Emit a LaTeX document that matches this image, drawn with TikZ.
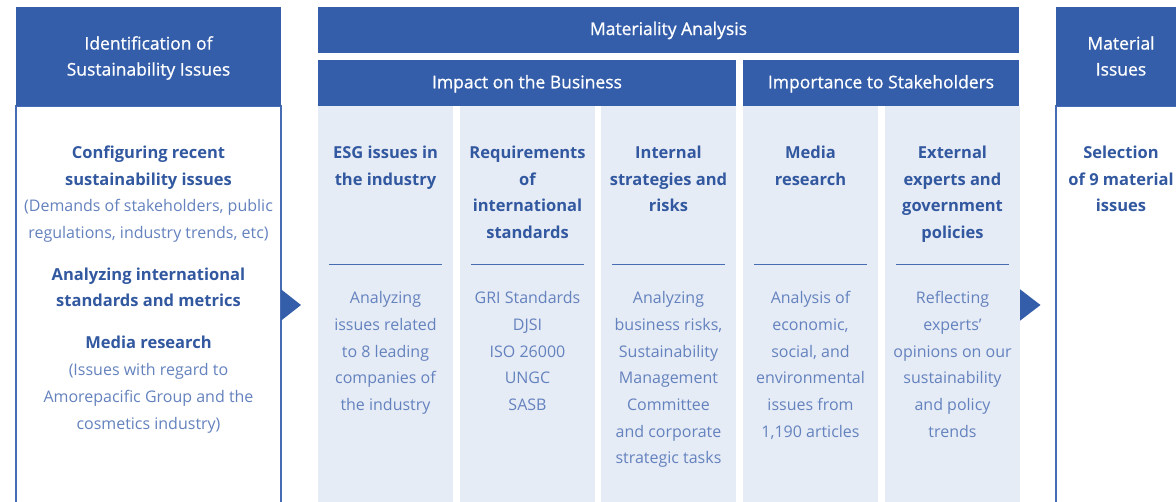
\documentclass[tikz,border=0pt]{standalone}
\usepackage{fontspec}
\setmainfont{Open Sans}
\newfontfamily\titlefont[FakeBold=0.8]{Open Sans}
\definecolor{hblue}{RGB}{52,94,170}
\definecolor{lblue}{RGB}{230,236,246}
\definecolor{dblue}{RGB}{50,88,160}
\definecolor{tblue}{RGB}{100,130,190}
\definecolor{bord}{RGB}{70,108,180}
\begin{document}
\begin{tikzpicture}[x=1pt,y=-1pt,
  box/.style={anchor=north west, inner sep=0, outer sep=0},
  hdr/.style={box, fill=hblue},
  col/.style={box, fill=lblue},
  outl/.style={box, draw=bord, line width=1.5pt},
  ttl/.style={font=\titlefont\fontsize{17.5}{26}\selectfont, text=white, align=center, inner sep=0},
  hd/.style={font=\fontsize{16.5}{26.5}\selectfont\bfseries, text=dblue, align=center, inner sep=0, execute at begin node=\strut},
  bd/.style={font=\fontsize{16}{26.7}\selectfont, text=tblue, align=center, inner sep=0, execute at begin node=\strut},
  sepl/.style={draw=bord, line width=1pt},
  arr/.style={fill=hblue}
]
\useasboundingbox (0,0) rectangle (1176,501);
\clip (0,0) rectangle (1176,501);
\fill[white] (0,0) rectangle (1176,501);

% left column
\node[outl, minimum width=265, minimum height=430] (lb) at (16,106) {};
\node[hdr, minimum width=265, minimum height=99] (lh) at (16,7) {};
\node[ttl, anchor=center] (lht) at (148.5,58) {Identification of\\Sustainability Issues};
\node[hd, anchor=north] (l1) at (148.5,146) {Configuring recent\\sustainability issues};
\node[bd, anchor=north] (l2) at (148.5,199.5) {(Demands of stakeholders, public\\regulations, industry trends, etc)};
\node[hd, anchor=north] (l3) at (148.5,267.5) {Analyzing international\\standards and metrics};
\node[hd, anchor=north] (l4) at (148.5,329.75) {Media research};
\node[bd, anchor=north] (l5) at (148.5,363.3) {(Issues with regard to\\Amorepacific Group and the\\cosmetics industry)};

% materiality analysis
\node[hdr, minimum width=701, minimum height=46] (mh) at (318,7) {};
\node[ttl, anchor=base] (mht) at (668.5,35) {Materiality Analysis};
\node[hdr, minimum width=418, minimum height=45.5] (ih) at (318,60) {};
\node[ttl, anchor=base] (iht) at (527,88.3) {Impact on the Business};
\node[hdr, minimum width=276, minimum height=45.5] (sh) at (743,60) {};
\node[ttl, anchor=base] (sht) at (881,88.3) {Importance to Stakeholders};

\foreach \i/\x in {1/318,2/460,3/601,4/743,5/885}{
  \node[col, minimum width=135, minimum height=420] (c\i) at (\x,105.5) {};
  \draw[sepl] (\x+11,264.3) -- (\x+124,264.3);
}
\node[hd, anchor=north] (h1) at (385.5,146) {ESG issues in\\the industry};
\node[hd, anchor=north] (h2) at (527.5,146) {Requirements\\of\\international\\standards};
\node[hd, anchor=north] (h3) at (668.5,146) {Internal\\strategies and\\risks};
\node[hd, anchor=north] (h4) at (810.5,146) {Media\\research};
\node[hd, anchor=north] (h5) at (952.5,146) {External\\experts and\\government\\policies};

\node[bd, anchor=north] (b1) at (385.5,291.3) {Analyzing\\issues related\\to 8 leading\\companies of\\the industry};
\node[bd, anchor=north] (b2) at (527.5,291.3) {GRI Standards\\DJSI\\ISO 26000\\UNGC\\SASB};
\node[bd, anchor=north] (b3) at (668.5,291.3) {Analyzing\\business risks,\\Sustainability\\Management\\Committee\\and corporate\\strategic tasks};
\node[bd, anchor=north] (b4) at (810.5,291.3) {Analysis of\\economic,\\social, and\\environmental\\issues from\\1,190 articles};
\node[bd, anchor=north] (b5) at (952.5,291.3) {Reflecting\\experts'\\opinions on our\\sustainability\\and policy\\trends};

% right column
\node[outl, minimum width=140, minimum height=430] (rb) at (1056,106) {};
\node[hdr, minimum width=140, minimum height=99] (rh) at (1056,7) {};
\node[ttl, anchor=center] (rht) at (1121,56) {Material\\Issues};
\node[hd, anchor=north] (r1) at (1121,146) {Selection\\of 9 material\\issues};

% arrows
\fill[arr] (lb.east |- 0,289.3) -- ([xshift=20]lb.east |- 0,305) -- (lb.east |- 0,320.7) -- cycle;
\fill[arr] (c5.east |- 0,289.3) -- ([xshift=20.5]c5.east |- 0,305) -- (c5.east |- 0,320.7) -- cycle;
\end{tikzpicture}
\end{document}
